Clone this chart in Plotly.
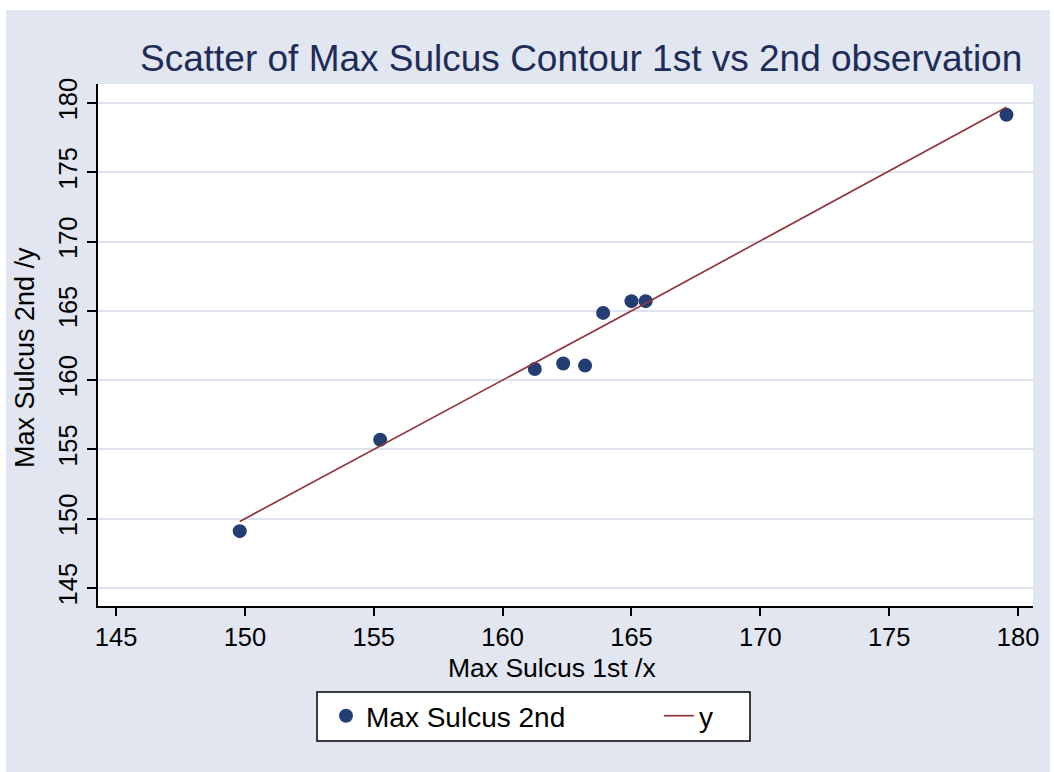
import plotly.graph_objects as go

# ---- data ----
x_first = [149.8, 155.25, 161.25, 162.35, 163.2, 163.9, 165.0, 165.55, 179.55]
y_second = [149.1, 155.7, 160.8, 161.2, 161.05, 164.85, 165.7, 165.7, 179.15]
line_x = [149.8, 155.25, 161.25, 162.35, 163.2, 163.9, 165.0, 165.55, 179.55]
line_y = [149.8, 155.25, 161.25, 162.35, 163.2, 163.9, 165.0, 165.55, 179.7]
tick_vals = [145, 150, 155, 160, 165, 170, 175, 180]
tick_text = ["145", "150", "155", "160", "165", "170", "175", "180"]

series_names = ["Max Sulcus 2nd", "y"]
title_text = "Scatter of Max Sulcus Contour 1st vs 2nd observation"
x_title = "Max Sulcus 1st /x"
y_title = "Max Sulcus 2nd /y"

# ---- layout geometry (pixels) ----
W, H = 1054, 772
L, R, T, B = 98, 1033, 84, 606
pw, ph = R - L, B - T

def px(xp):
    return (xp - L) / pw

def py(yp):
    return (B - yp) / ph

BG = "#E2E6F0"
FONT = "Liberation Sans, Arial, sans-serif"

fig = go.Figure()
fig.add_trace(go.Scatter(
    x=x_first, y=y_second, mode="markers", name=series_names[0],
    marker=dict(color="#233E72", size=14, line=dict(width=0)),
    legend="legend",
))
fig.add_trace(go.Scatter(
    x=line_x, y=line_y, mode="lines", name=series_names[1],
    line=dict(color="#90353B", width=1.7),
    legend="legend2",
))

axis_common = dict(
    showline=True, linecolor="black", linewidth=1.5,
    ticks="outside", tickwidth=1.5, tickcolor="black",
    tickvals=tick_vals, ticktext=tick_text,
    tickfont=dict(family=FONT, size=25.5, color="black"),
    zeroline=False, mirror=False,
)

leg_common = dict(
    orientation="h", yanchor="middle", y=py(716),
    bgcolor="rgba(0,0,0,0)", borderwidth=0,
    font=dict(family=FONT, size=28, color="black"),
    itemwidth=30,
)

fig.update_layout(
    width=W, height=H,
    margin=dict(l=L, r=W - R, t=T, b=H - B, pad=0),
    paper_bgcolor=BG, plot_bgcolor="white",
    font=dict(family=FONT, color="black"),
    showlegend=True,
    legend=dict(x=px(326), xanchor="left", **leg_common),
    legend2=dict(x=px(659), xanchor="left", **leg_common),
    xaxis=dict(range=[144.30, 180.58], showgrid=False, ticklen=8, **axis_common),
    yaxis=dict(range=[143.70, 181.37], showgrid=True, gridcolor="#DCE2EE",
               gridwidth=1.5, tickangle=-90, ticklen=9, **axis_common),
)

# title and axis titles as annotations for precise placement
fig.add_annotation(text=title_text, xref="paper", yref="paper",
                   x=px(581), y=py(58), xanchor="center", yanchor="middle",
                   showarrow=False, font=dict(family=FONT, size=37, color="#1E2C58"))
fig.add_annotation(text=x_title, xref="paper", yref="paper",
                   x=px(552), y=py(668), xanchor="center", yanchor="middle",
                   showarrow=False, font=dict(family=FONT, size=26.5, color="black"))
fig.add_annotation(text=y_title, xref="paper", yref="paper",
                   x=px(25), y=py(358), xanchor="center", yanchor="middle",
                   textangle=-90, showarrow=False,
                   font=dict(family=FONT, size=27, color="black"))

# legend frame
fig.add_shape(type="rect", xref="paper", yref="paper",
              x0=px(317), x1=px(750), y0=py(741), y1=py(692),
              fillcolor="white", line=dict(color="black", width=1.5), layer="below")

# white page strips around the graph region
for (x0, x1, y0, y1) in [(-20, W + 20, -20, 10), (-20, 6, -20, H + 20), (1050, W + 20, -20, H + 20)]:
    fig.add_shape(type="rect", xref="paper", yref="paper",
                  x0=px(x0), x1=px(x1), y0=py(y1), y1=py(y0),
                  fillcolor="white", line=dict(width=0), layer="below")

fig.write_html("out.html", config={"displayModeBar": False},
               post_script="document.body.style.margin='0';document.body.style.overflow='hidden';")
